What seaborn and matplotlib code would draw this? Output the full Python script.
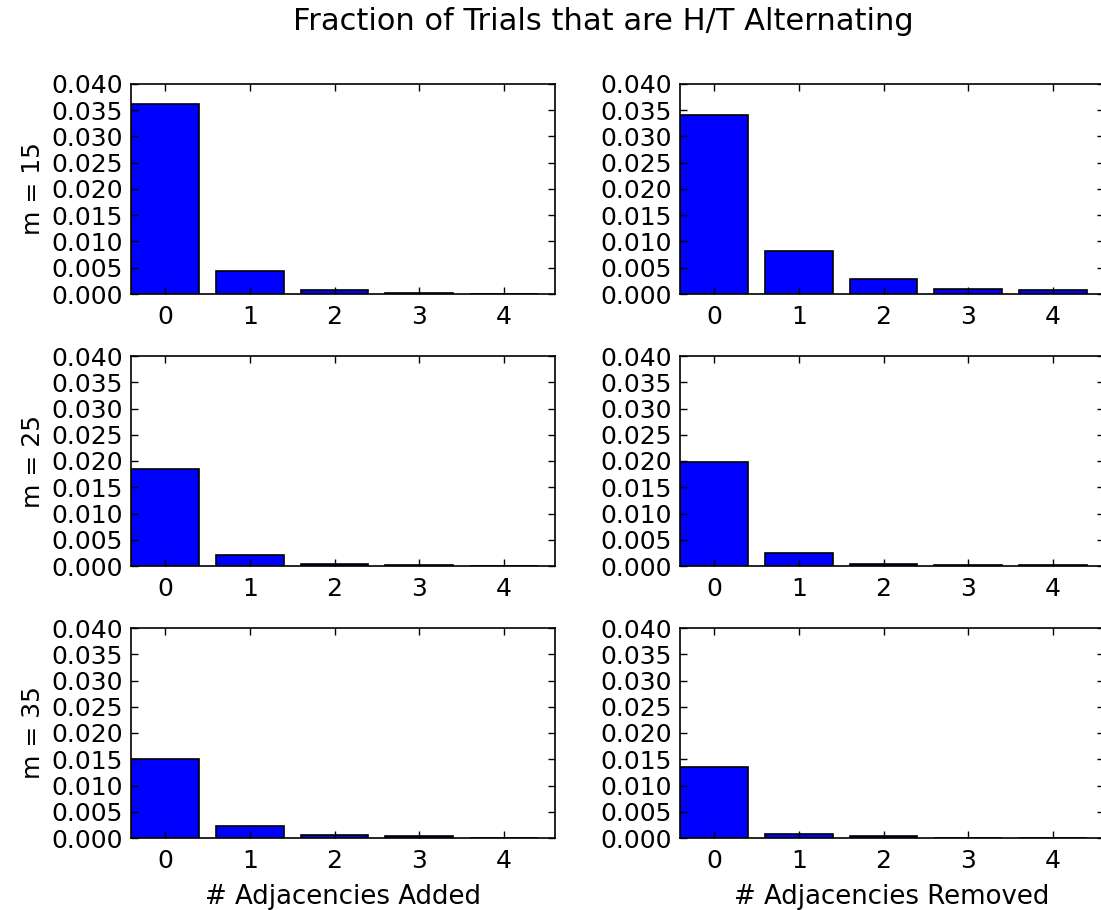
import matplotlib
matplotlib.use("Agg")
import matplotlib.pyplot as plt
import seaborn as sns
import pandas as pd
from matplotlib.ticker import FormatStrFormatter, MultipleLocator

# ---- data ----
adjacencies = ["0", "1", "2", "3", "4"]
m_values = [15, 25, 35]
added_m15 = [0.0361, 0.0044, 0.0007, 0.0001, 0.00005]
added_m25 = [0.0185, 0.0021, 0.00045, 0.0001, 0.00005]
added_m35 = [0.0150, 0.0023, 0.0005, 0.0003, 0.00005]
removed_m15 = [0.0340, 0.0082, 0.0028, 0.0010, 0.0008]
removed_m25 = [0.0198, 0.00255, 0.00045, 0.0002, 0.0001]
removed_m35 = [0.0135, 0.0008, 0.0003, 0.00005, 0.00005]
title = "Fraction of Trials that are H/T Alternating"
col_labels = ["# Adjacencies Added", "# Adjacencies Removed"]

plt.rcParams.update({
    "font.family": ["DejaVu Sans"],
    "font.size": 18,
    "xtick.direction": "in",
    "ytick.direction": "in",
    "xtick.top": True,
    "ytick.right": True,
    "xtick.major.size": 5,
    "ytick.major.size": 5,
    "xtick.major.pad": 8,
    "ytick.major.pad": 6,
    "axes.linewidth": 1.2,
})

W, H = 1101, 910
fig = plt.figure(figsize=(W / 100, H / 100), dpi=100)
fig.patch.set_facecolor("white")

panels = [[added_m15, removed_m15], [added_m25, removed_m25], [added_m35, removed_m35]]
lefts = [131, 680]
tops = [84, 356, 628]
aw, ah = 424, 210

for r, row in enumerate(panels):
    for c, vals in enumerate(row):
        ax = fig.add_axes([lefts[c] / W, 1 - (tops[r] + ah) / H, aw / W, ah / H])
        df = pd.DataFrame({"adj": adjacencies, "frac": vals})
        sns.barplot(data=df, x="adj", y="frac", order=adjacencies, color="blue",
                    saturation=1, edgecolor="black", linewidth=1.2, width=0.8, ax=ax)
        ax.set_xlim(-0.4, 4.6)
        ax.set_ylim(0, 0.040)
        ax.yaxis.set_major_locator(MultipleLocator(0.005))
        ax.yaxis.set_major_formatter(FormatStrFormatter("%.3f"))
        ax.tick_params(axis="both", labelsize=18, width=1)
        ax.set_xlabel(col_labels[c] if r == 2 else "", fontsize=18.7, labelpad=8)
        ax.set_ylabel(f"m = {m_values[r]}" if c == 0 else "", fontsize=18)
        for s in ax.spines.values():
            s.set_color("black")

fig.text(603 / W, 1 - 22 / H, title, fontsize=22, ha="center", va="center")
fig.savefig("out.png", dpi=100, facecolor="white")
